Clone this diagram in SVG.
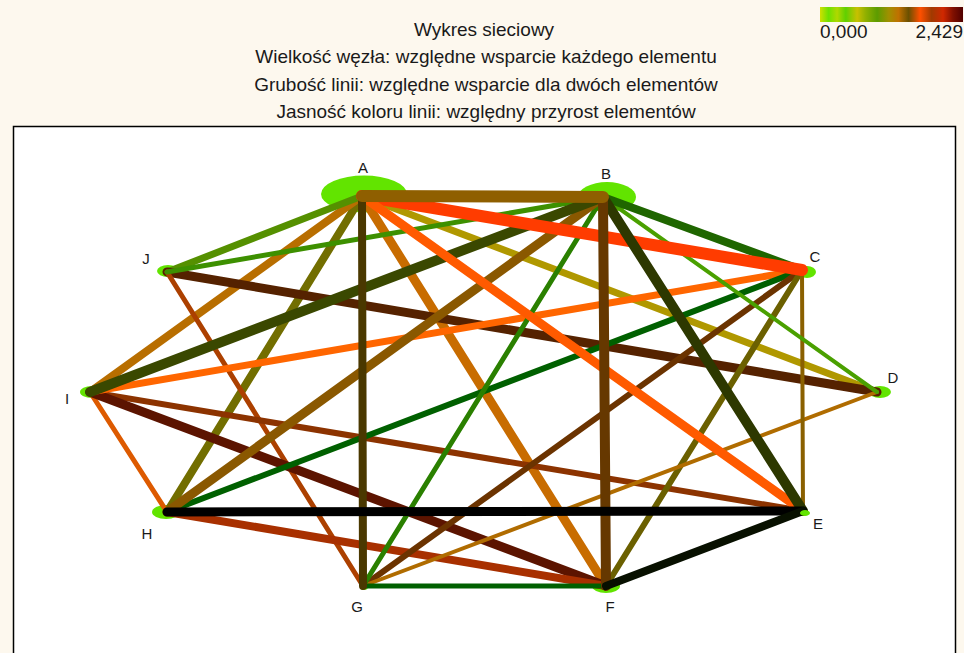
<svg xmlns="http://www.w3.org/2000/svg" width="964" height="653" viewBox="0 0 964 653">
<defs>
<linearGradient id="cbar" x1="0" y1="0" x2="1" y2="0">
<stop offset="0" stop-color="#d0e000"/>
<stop offset="0.06" stop-color="#6ee000"/>
<stop offset="0.12" stop-color="#b0d800"/>
<stop offset="0.18" stop-color="#60d000"/>
<stop offset="0.26" stop-color="#c8c000"/>
<stop offset="0.32" stop-color="#90b000"/>
<stop offset="0.40" stop-color="#5c9c00"/>
<stop offset="0.48" stop-color="#a09000"/>
<stop offset="0.55" stop-color="#c07000"/>
<stop offset="0.62" stop-color="#6a5000"/>
<stop offset="0.70" stop-color="#ff5000"/>
<stop offset="0.78" stop-color="#a03a00"/>
<stop offset="0.86" stop-color="#d02800"/>
<stop offset="0.93" stop-color="#801000"/>
<stop offset="1" stop-color="#500000"/>
</linearGradient>
<style>
.title{font-family:"Liberation Sans",Arial,sans-serif;font-size:19px;fill:#1a1a1a;text-anchor:middle}
.leg{font-family:"Liberation Sans",Arial,sans-serif;font-size:19px;fill:#1a1a1a}
.lbl{font-family:"Liberation Sans",Arial,sans-serif;font-size:15px;fill:#1a1a1a;text-anchor:middle}
.node{fill:#62e400}
#edges line{stroke-linecap:round;fill:none}
</style>
</defs>
<rect x="0" y="0" width="964" height="653" fill="#fdf8ee"/>
<rect x="13.5" y="126.5" width="942" height="540" fill="#ffffff" stroke="#000" stroke-width="1.5"/>
<g id="title">
<text class="title" x="484" y="36">Wykres sieciowy</text>
<text class="title" x="486" y="63">Wielkość węzła: względne wsparcie każdego elementu</text>
<text class="title" x="486" y="91">Grubość linii: względne wsparcie dla dwóch elementów</text>
<text class="title" x="486" y="118">Jasność koloru linii: względny przyrost elementów</text>
</g>
<g id="legend">
<rect x="820" y="7" width="143" height="15" fill="url(#cbar)"/>
<text class="leg" x="820" y="38">0,000</text>
<text class="leg" x="963" y="38" text-anchor="end">2,429</text>
</g>
<g id="node-shapes">
<ellipse class="node" cx="364" cy="194" rx="43" ry="18.5"/>
<ellipse class="node" cx="607" cy="197" rx="29" ry="15"/>
<ellipse class="node" cx="807" cy="272" rx="9" ry="6"/>
<ellipse class="node" cx="880" cy="392" rx="11" ry="6"/>
<ellipse class="node" cx="606" cy="586" rx="14" ry="7"/>
<ellipse class="node" cx="364" cy="587" rx="4" ry="3"/>
<ellipse class="node" cx="166" cy="512" rx="14" ry="7"/>
<ellipse class="node" cx="92" cy="392" rx="12" ry="6"/>
<ellipse class="node" cx="168" cy="271" rx="11" ry="6"/>
</g>
<g id="edges">
<line x1="362" y1="196" x2="606" y2="586" stroke="#c86c00" stroke-width="9"/>
<line x1="362" y1="196" x2="167" y2="512" stroke="#726e00" stroke-width="8"/>
<line x1="362" y1="196" x2="90" y2="392" stroke="#b86e00" stroke-width="8"/>
<line x1="362" y1="196" x2="167" y2="272" stroke="#559000" stroke-width="7"/>
<line x1="362" y1="196" x2="877" y2="392" stroke="#b09800" stroke-width="7"/>
<line x1="167" y1="272" x2="877" y2="392" stroke="#552200" stroke-width="9"/>
<line x1="167" y1="272" x2="363" y2="586" stroke="#ac4000" stroke-width="5"/>
<line x1="90" y1="392" x2="167" y2="512" stroke="#dd5a00" stroke-width="5"/>
<line x1="90" y1="392" x2="803" y2="511" stroke="#8c3300" stroke-width="6"/>
<line x1="90" y1="392" x2="606" y2="586" stroke="#5c1400" stroke-width="9"/>
<line x1="167" y1="512" x2="606" y2="586" stroke="#a83000" stroke-width="8"/>
<line x1="90" y1="392" x2="802" y2="270" stroke="#ff6600" stroke-width="7"/>
<line x1="167" y1="512" x2="802" y2="270" stroke="#006000" stroke-width="6"/>
<line x1="363" y1="586" x2="802" y2="270" stroke="#6b3300" stroke-width="6"/>
<line x1="606" y1="586" x2="802" y2="270" stroke="#6b6000" stroke-width="6"/>
<line x1="363" y1="586" x2="877" y2="392" stroke="#b06c00" stroke-width="4"/>
<line x1="363" y1="586" x2="606" y2="586" stroke="#006000" stroke-width="5"/>
<line x1="802" y1="270" x2="803" y2="511" stroke="#8a6000" stroke-width="4"/>
<line x1="603" y1="197" x2="877" y2="392" stroke="#4aa000" stroke-width="4"/>
<line x1="603" y1="197" x2="802" y2="270" stroke="#1f6600" stroke-width="8"/>
<line x1="603" y1="197" x2="167" y2="272" stroke="#3d9000" stroke-width="5"/>
<line x1="603" y1="197" x2="363" y2="586" stroke="#2a8000" stroke-width="5"/>
<line x1="603" y1="197" x2="167" y2="512" stroke="#8a5800" stroke-width="9"/>
<line x1="603" y1="197" x2="90" y2="392" stroke="#3a4800" stroke-width="10"/>
<line x1="362" y1="196" x2="802" y2="270" stroke="#ff3c00" stroke-width="12"/>
<line x1="362" y1="196" x2="803" y2="511" stroke="#ff5a00" stroke-width="9"/>
<line x1="603" y1="197" x2="803" y2="511" stroke="#2d3800" stroke-width="10"/>
<line x1="362" y1="196" x2="363" y2="586" stroke="#4a3800" stroke-width="8"/>
<line x1="603" y1="197" x2="606" y2="586" stroke="#663800" stroke-width="10"/>
<line x1="362" y1="196" x2="603" y2="197" stroke="#8f5f00" stroke-width="12"/>
<line x1="167" y1="512" x2="803" y2="511" stroke="#000000" stroke-width="9"/>
<line x1="803" y1="511" x2="606" y2="586" stroke="#081000" stroke-width="8"/>
</g>
<g id="node-E"><ellipse class="node" cx="805" cy="513" rx="5" ry="3"/></g>
<g id="labels">
<g id="node-A"><text class="lbl" x="363" y="173">A</text></g>
<g id="node-B"><text class="lbl" x="606" y="179">B</text></g>
<g id="node-C"><text class="lbl" x="815" y="262">C</text></g>
<g id="node-D"><text class="lbl" x="893" y="383">D</text></g>
<g id="node-E-label"><text class="lbl" x="818" y="529">E</text></g>
<g id="node-F"><text class="lbl" x="610" y="612">F</text></g>
<g id="node-G"><text class="lbl" x="357" y="612">G</text></g>
<g id="node-H"><text class="lbl" x="147" y="539">H</text></g>
<g id="node-I"><text class="lbl" x="67" y="404">I</text></g>
<g id="node-J"><text class="lbl" x="146" y="264">J</text></g>
</g>
</svg>
